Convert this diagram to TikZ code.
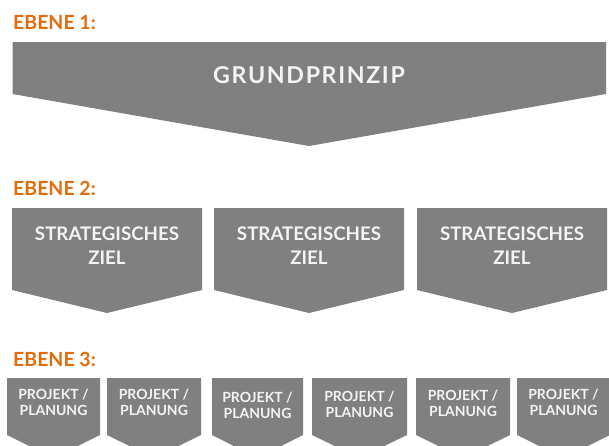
\documentclass[tikz,border=0pt]{standalone}
\usepackage{fontspec}
\setmainfont{Lato}
\usetikzlibrary{positioning}

\definecolor{ebeneorange}{HTML}{E36C0A}
\definecolor{pfeilgrau}{HTML}{808080}
\definecolor{pfeilschrift}{HTML}{F4F4F4}

\tikzset{
    ebene/.style={anchor=base west, inner sep=0pt, text=ebeneorange,
        font=\fontsize{19.5}{22}\selectfont\bfseries},
    pfeil/.style={fill=pfeilgrau},
    pfeiltext/.style={anchor=base, inner sep=0pt, align=center, text=pfeilschrift},
}

\begin{document}
\begin{tikzpicture}[x=1pt,y=-1pt]
    \useasboundingbox (0,0) rectangle (609,445);
    \clip (0,0) rectangle (609,445);

    % Ebene 1: ein grosser Pfeil
    \node[ebene] (ebene1) at (13,29) {EBENE 1:};
    \fill[pfeil] (12.5,42) -- (606,42) -- (606,94) -- (309,146) -- (12.5,94) -- cycle;
    \node[pfeiltext, font=\fontsize{23.2}{26}\selectfont\bfseries\addfontfeatures{LetterSpace=7}]
        (grundprinzip) at (309,83.3) {GRUNDPRINZIP};

    % Ebene 2: drei Ziele (base = letzte Zeile)
    \node[ebene] (ebene2) at (13,195) {EBENE 2:};
    \foreach \i/\l/\r in {1/12/202, 2/214/404, 3/417/607} {
        \fill[pfeil] (\l,208) -- (\r,208) -- (\r,290) -- ({(\l+\r)/2},313) -- (\l,290) -- cycle;
        \node[pfeiltext, font=\fontsize{18.7}{23.3}\selectfont\bfseries]
            (ziel\i) at ({(\l+\r)/2},264) {STRATEGISCHES\\ZIEL};
    }

    % Ebene 3: je zwei Projekte pro Ziel, unten abgeschnitten
    \node[ebene] (ebene3) at (13,366) {EBENE 3:};
    \foreach \i/\l/\r/\dy in {1/7/100/0, 2/107/201/0, 3/212/303/3, 4/312/407/2, 5/416/510/1, 6/517/610/0} {
        \fill[pfeil] (\l,378) -- (\r,378) -- (\r,435) -- ({(\l+\r)/2},458) -- (\l,435) -- cycle;
        \node[pfeiltext, font=\fontsize{14}{16.2}\selectfont\bfseries]
            (projekt\i) at ({(\l+\r)/2},415.7+\dy) {PROJEKT /\\PLANUNG};
    }
\end{tikzpicture}
\end{document}
